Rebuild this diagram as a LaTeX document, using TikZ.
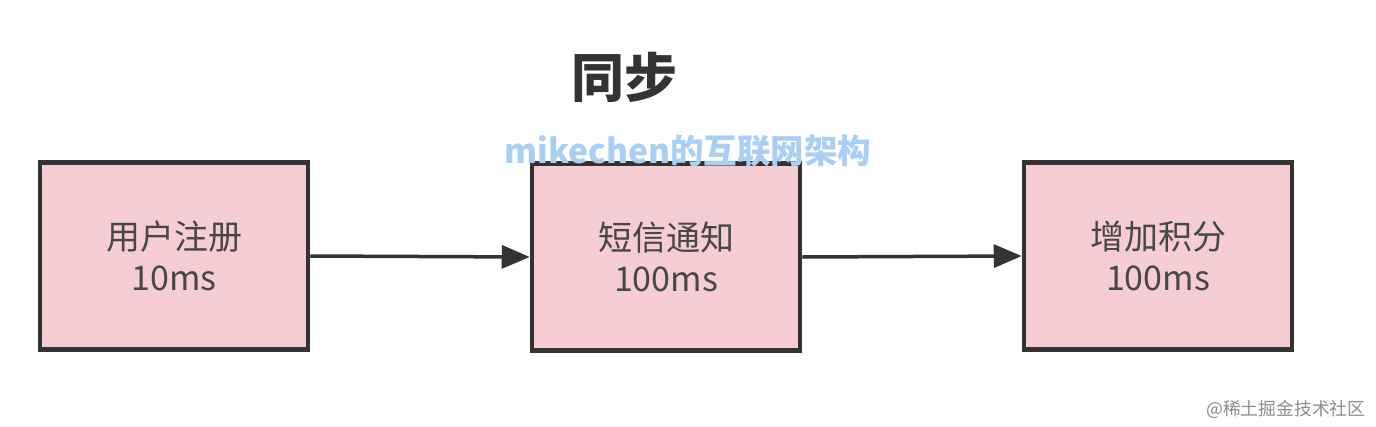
\documentclass[tikz,border=0pt]{standalone}
\usepackage{fontspec}
\newfontfamily\cjk{Noto Sans CJK SC}
\usetikzlibrary{arrows.meta}
\definecolor{boxfill}{HTML}{F5CDD2}
\definecolor{boxline}{HTML}{333333}
\definecolor{wm}{HTML}{A9CFF5}
\tikzset{
  stepbox/.style={draw=boxline, line width=4.5pt, fill=boxfill, minimum width=268pt, minimum height=187pt, inner sep=0pt, align=center, font=\cjk\fontsize{34}{41}\selectfont, text=boxline!90},
  conn/.style={draw=boxline, line width=3.5pt, -{Triangle[length=28pt,width=23pt]}}
}
\begin{document}
\begin{tikzpicture}[x=1pt,y=-1pt]
\useasboundingbox (0,0) rectangle (1376,426);
\node[stepbox] (a) at (174,256) {用户注册\\10ms};
\node[stepbox] (b) at (666,257) {短信通知\\100ms};
\node[stepbox] (c) at (1158,256) {增加积分\\100ms};
\draw[conn] (a.east) -- (b.west);
\draw[conn] (b.east) -- (c.west);
\node[font=\cjk\bfseries\fontsize{53}{56}\selectfont, text=boxline] (t) at (624,77) {同步};
\node[font=\cjk\bfseries\fontsize{33.5}{36}\selectfont, text=wm] (w) at (688,151) {mikechen的互联网架构};
\node[font=\cjk\fontsize{17.8}{20}\selectfont, text=black!45, anchor=east] (f) at (1369,409) {@稀土掘金技术社区};
\end{tikzpicture}
\end{document}
